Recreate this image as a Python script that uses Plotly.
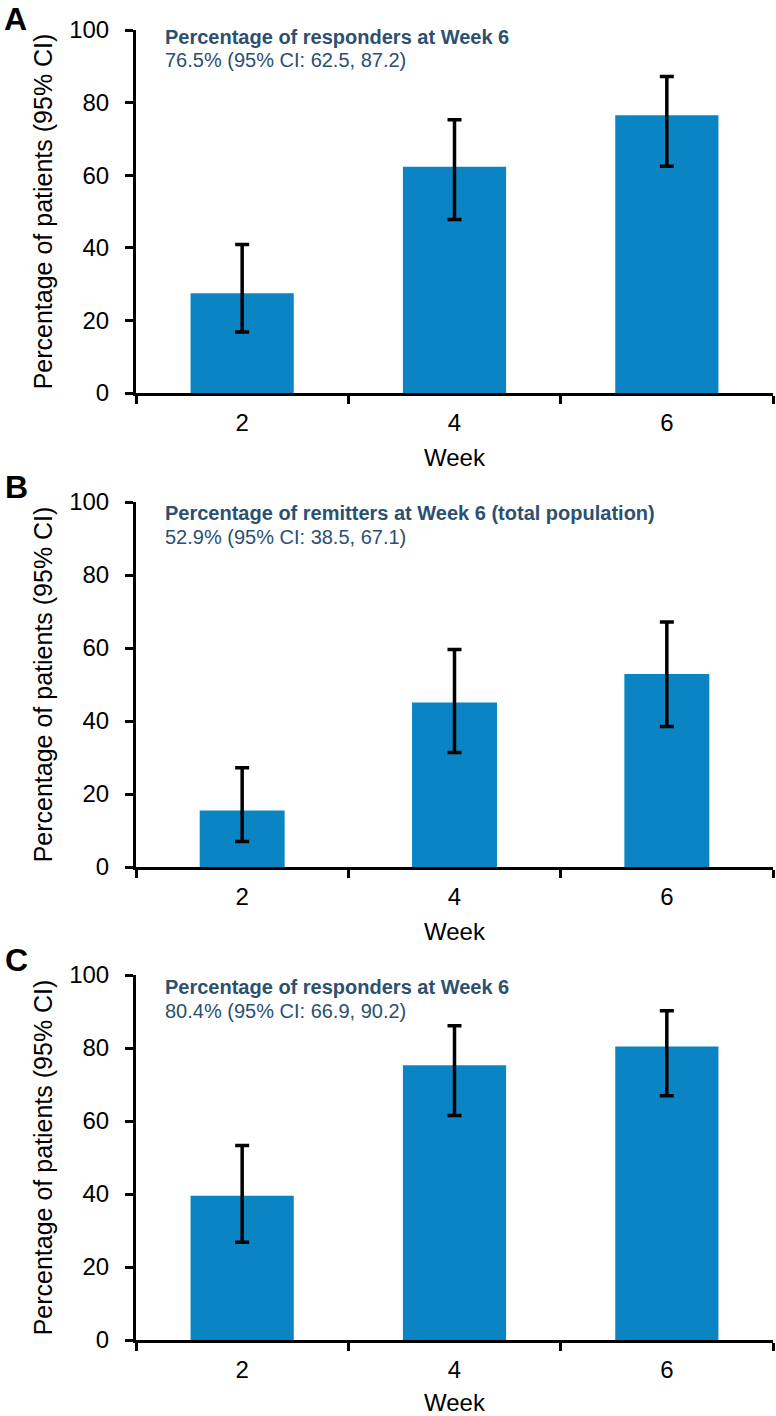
import plotly.graph_objects as go

weeks = ["2", "4", "6"]

a_values = [27.5, 62.3, 76.5]
a_lower = [16.8, 47.8, 62.5]
a_upper = [40.9, 75.3, 87.2]

b_values = [15.5, 45.1, 52.9]
b_lower = [7.0, 31.4, 38.5]
b_upper = [27.2, 59.6, 67.1]

c_values = [39.5, 75.3, 80.4]
c_lower = [26.8, 61.5, 66.9]
c_upper = [53.3, 86.1, 90.2]

panel_letters = ["A", "B", "C"]
panel_titles = [
    "Percentage of responders at Week 6",
    "Percentage of remitters at Week 6 (total population)",
    "Percentage of responders at Week 6",
]
panel_subtitles = [
    "76.5% (95% CI: 62.5, 87.2)",
    "52.9% (95% CI: 38.5, 67.1)",
    "80.4% (95% CI: 66.9, 90.2)",
]
y_ticks = [0, 20, 40, 60, 80, 100]

BAR = "#0A84C2"
TXT = "#2B5070"
FONT = "Liberation Sans, Arial, sans-serif"
H = 1416.0

# (values, lower, upper, bar width, (plot top px, plot bottom px), letter y px, title y, subtitle y)
panels = [
    (a_values, a_lower, a_upper, 0.486, (30, 393), 15, 98.2, 91.6),
    (b_values, b_lower, b_upper, 0.40, (502, 867), 487, 97.0, 90.4),
    (c_values, c_lower, c_upper, 0.486, (975, 1340), 960, 96.8, 90.2),
]

fig = go.Figure()
layout = {}
annotations = []
for i, (vals, lo, up, bw, (ptop, pbot), letter_y, ty, sy) in enumerate(panels):
    n = i + 1
    xa = "x" if n == 1 else f"x{n}"
    ya = "y" if n == 1 else f"y{n}"
    fig.add_trace(go.Bar(
        x=weeks, y=vals, width=bw,
        marker=dict(color=BAR, line=dict(width=0)),
        error_y=dict(type="data", symmetric=False,
                     array=[u - v for u, v in zip(up, vals)],
                     arrayminus=[v - l for v, l in zip(vals, lo)],
                     color="black", thickness=3.5, width=7),
        xaxis=xa, yaxis=ya, showlegend=False,
    ))
    dom = [1 - pbot / H, 1 - ptop / H]
    layout[f"xaxis{'' if n == 1 else n}"] = dict(
        domain=[0, 1], anchor=ya, type="category", range=[-0.5, 2.5],
        showline=True, linecolor="black", linewidth=3,
        ticks="outside", tickson="boundaries", ticklen=8, tickwidth=3,
        tickcolor="black", showgrid=False, zeroline=False,
        ticklabelstandoff=6,
        tickfont=dict(family=FONT, size=24, color="black"),
        title=dict(text="Week", font=dict(family=FONT, size=24, color="black"), standoff=15),
        automargin=False, fixedrange=True,
    )
    layout[f"yaxis{'' if n == 1 else n}"] = dict(
        domain=dom, anchor=xa, range=[0, 100], tickvals=y_ticks,
        showline=True, linecolor="black", linewidth=3,
        ticks="outside", ticklen=8, tickwidth=3, tickcolor="black",
        ticklabelstandoff=11,
        showgrid=False, zeroline=False,
        tickfont=dict(family=FONT, size=24, color="black"),
        title=dict(text="Percentage of patients (95% CI)",
                   font=dict(family=FONT, size=25, color="black"), standoff=10),
        automargin=False, fixedrange=True,
    )
    annotations.append(dict(
        xref="paper", yref=ya, x=0.042, y=ty, xanchor="left", yanchor="middle",
        text=f"<b>{panel_titles[i]}</b>", showarrow=False,
        font=dict(family=FONT, size=20, color=TXT)))
    annotations.append(dict(
        xref="paper", yref=ya, x=0.042, y=sy, xanchor="left", yanchor="middle",
        text=panel_subtitles[i], showarrow=False,
        font=dict(family=FONT, size=20, color=TXT)))
    if i == 0:
        annotations.append(dict(
            xref="paper", yref="paper", x=-133 / 637, y=1.0,
            xanchor="left", yanchor="top", text=f"<b>{panel_letters[i]}</b>",
            showarrow=False, borderpad=0,
            font=dict(family=FONT, size=32, color="black")))
    else:
        annotations.append(dict(
            xref="paper", yref="paper", x=-133 / 637, y=1 - letter_y / H,
            xanchor="left", yanchor="middle", text=f"<b>{panel_letters[i]}</b>",
            showarrow=False, font=dict(family=FONT, size=32, color="black")))

fig.update_layout(
    width=776, height=1416,
    margin=dict(l=136, r=3, t=0, b=0, autoexpand=False),
    paper_bgcolor="white", plot_bgcolor="white",
    annotations=annotations,
    **layout,
)
fig.write_html("out.html", config={"displayModeBar": False},
               post_script="document.body.style.margin='0px';")
